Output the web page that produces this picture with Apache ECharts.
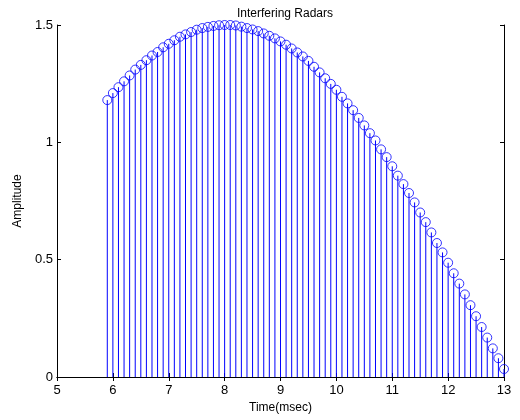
<!DOCTYPE html>
<html lang="en">
<head>
<meta charset="UTF-8">
<title>Interfering Radars</title>
<script src="https://cdn.jsdelivr.net/npm/echarts@6/dist/echarts.min.js"></script>
</head>
<body style="margin:0">
<div id="main" style="width: 520px; height: 420px"></div>
<script type="text/javascript">
// sample times (msec) and the amplitudes
var times = [5.9, 6.0, 6.1, 6.2, 6.3, 6.4, 6.5, 6.6, 6.7, 6.8, 6.9, 7.0,
    7.1, 7.2, 7.3, 7.4, 7.5, 7.6, 7.7, 7.8, 7.9, 8.0, 8.1, 8.2,
    8.3, 8.4, 8.5, 8.6, 8.7, 8.8, 8.9, 9.0, 9.1, 9.2, 9.3, 9.4,
    9.5, 9.6, 9.7, 9.8, 9.9, 10.0, 10.1, 10.2, 10.3, 10.4, 10.5, 10.6,
    10.7, 10.8, 10.9, 11.0, 11.1, 11.2, 11.3, 11.4, 11.5, 11.6, 11.7, 11.8,
    11.9, 12.0, 12.1, 12.2, 12.3, 12.4, 12.5, 12.6, 12.7, 12.8, 12.9, 13.0];
var amplitude = [1.18, 1.21, 1.235, 1.26, 1.285, 1.31, 1.33, 1.35, 1.37, 1.385, 1.405, 1.42,
    1.435, 1.45, 1.46, 1.47, 1.48, 1.487, 1.492, 1.496, 1.499, 1.5, 1.5, 1.498,
    1.493, 1.487, 1.481, 1.474, 1.464, 1.454, 1.443, 1.43, 1.416, 1.4, 1.383, 1.366,
    1.347, 1.322, 1.298, 1.273, 1.249, 1.224, 1.194, 1.166, 1.137, 1.104, 1.072, 1.039,
    1.008, 0.97, 0.937, 0.898, 0.858, 0.822, 0.784, 0.744, 0.701, 0.66, 0.616, 0.571,
    0.531, 0.487, 0.442, 0.398, 0.352, 0.306, 0.259, 0.213, 0.168, 0.122, 0.08, 0.034];
var xTicks = [5, 13, 1];
var yTicks = [0, 1.5, 0.5];

var points = times.map(function (t, i) { return [t, amplitude[i]]; });

var font = 'Liberation Sans, Arial, sans-serif';
var boxAxis = {
    axisLine: { show: true, lineStyle: { color: '#000', width: 1 } },
    axisTick: { show: true, inside: true, length: 4, lineStyle: { color: '#000' } },
    splitLine: { show: false }
};

var myChart = echarts.init(document.getElementById('main'));
myChart.setOption({
    animation: false,
    title: {
        text: 'Interfering Radars',
        left: 280, top: 3, textAlign: 'center',
        textStyle: { fontFamily: font, fontSize: 12, fontWeight: 'normal', color: '#000' }
    },
    grid: { left: 57, right: 16, top: 25, bottom: 43 },
    xAxis: [
        Object.assign({
            type: 'value', min: xTicks[0], max: xTicks[1], interval: xTicks[2],
            name: 'Time(msec)', nameLocation: 'middle', nameGap: 23,
            nameTextStyle: { fontFamily: font, fontSize: 12, color: '#000' },
            axisLabel: { fontFamily: font, fontSize: 13, color: '#000', margin: 7 }
        }, boxAxis),
        Object.assign({
            type: 'value', position: 'top', min: xTicks[0], max: xTicks[1], interval: xTicks[2],
            axisLabel: { show: false }
        }, boxAxis)
    ],
    yAxis: [
        Object.assign({
            type: 'value', min: yTicks[0], max: yTicks[1], interval: yTicks[2],
            name: 'Amplitude', nameLocation: 'middle', nameGap: 33,
            nameTextStyle: { fontFamily: font, fontSize: 12, color: '#000' },
            axisLabel: { fontFamily: font, fontSize: 13, color: '#000', margin: 4 }
        }, boxAxis),
        Object.assign({
            type: 'value', position: 'right', min: yTicks[0], max: yTicks[1], interval: yTicks[2],
            axisLabel: { show: false }
        }, boxAxis)
    ],
    series: [{
        // stems, drawn up to the marker centre
        type: 'custom',
        data: points,
        renderItem: function (params, api) {
            var top = api.coord([api.value(0), api.value(1)]);
            var base = api.coord([api.value(0), 0]);
            return {
                type: 'line',
                shape: { x1: top[0], y1: top[1], x2: base[0], y2: base[1] },
                style: { stroke: '#0000ff', lineWidth: 1 }
            };
        },
        z: 2
    }, {
        type: 'scatter',
        data: points,
        symbol: 'circle',
        symbolSize: 9,
        itemStyle: { color: 'rgba(0,0,0,0)', borderColor: '#0000ff', borderWidth: 1 },
        z: 3
    }]
});
</script>
</body>
</html>
